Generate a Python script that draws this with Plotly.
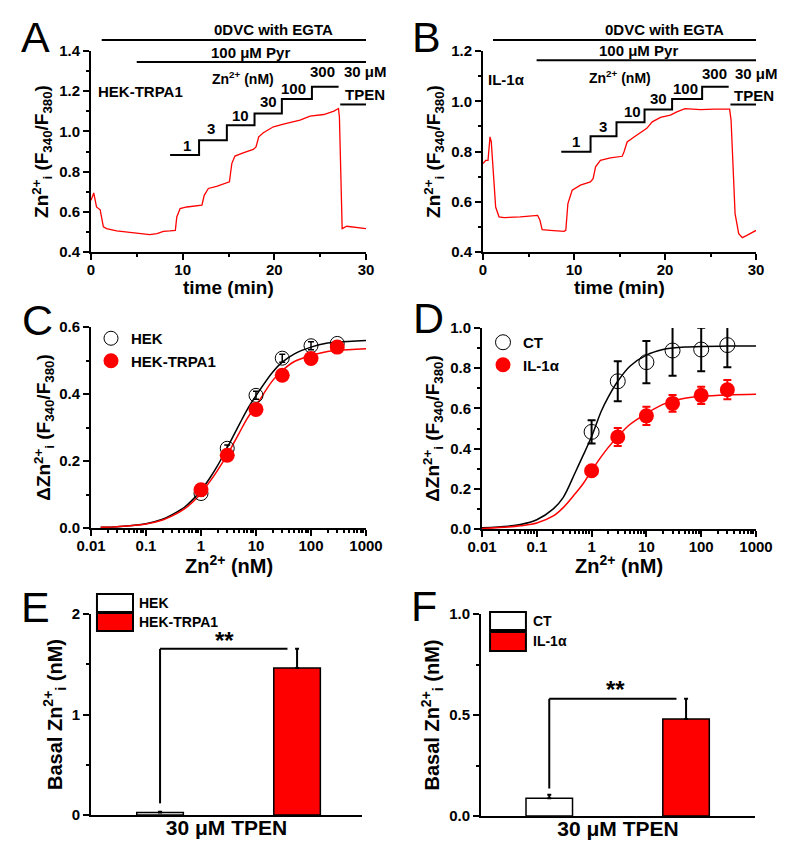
import plotly.graph_objects as go

# page body has an 8 px margin; the figure is sized so it ends exactly at the window edge
OFF = 8
W, H = 788 - OFF, 852 - OFF
FONT = "Liberation Sans, Arial, sans-serif"

# ---------------- data ----------------
# Panel A: HEK-TRPA1 trace
tA = [0, 0.3, 0.6, 1.0, 1.35, 1.7, 2.8, 4.6, 6.4, 7.2, 7.9, 8.6, 9.2, 9.36, 9.72, 10.45, 11.2, 12.1, 12.35, 12.8,
      13.7, 14.8, 15.1, 15.36, 15.7, 16.6, 17.7, 18.0, 18.3, 18.8, 19.9, 21.0, 22.8, 23.9, 25.4, 26.5, 27.0, 27.1,
      27.27, 27.4, 27.9, 28.65, 30]
rA = [0.657, 0.694, 0.624, 0.61, 0.525, 0.516, 0.505, 0.496, 0.486, 0.491, 0.503, 0.505, 0.508, 0.574, 0.616, 0.624,
      0.628, 0.633, 0.682, 0.716, 0.727, 0.744, 0.749, 0.84, 0.877, 0.893, 0.91, 0.923, 0.973, 0.993, 1.023, 1.036,
      1.056, 1.076, 1.084, 1.101, 1.114, 1.07, 0.824, 0.516, 0.528, 0.525, 0.516]
# Panel B: IL-1alpha trace
tB = [0, 0.3, 0.55, 0.77, 0.91, 1.06, 1.39, 1.76, 2.3, 4.1, 6.0, 6.26, 6.5, 7.4, 8.9, 9.1, 9.33, 9.8, 10.7, 11.8,
      12.1, 12.37, 12.9, 14.0, 15.3, 15.5, 15.84, 16.6, 17.5, 18.0, 18.6, 19.5, 20.6, 21.3, 22.2, 23.9, 25.4, 27.1,
      27.26, 27.5, 27.7, 28.1, 28.5, 29.0, 30]
rB = [0.752, 0.765, 0.765, 0.858, 0.838, 0.765, 0.579, 0.54, 0.537, 0.54, 0.546, 0.526, 0.489, 0.486, 0.482, 0.486,
      0.593, 0.646, 0.666, 0.679, 0.692, 0.739, 0.765, 0.775, 0.781, 0.799, 0.838, 0.858, 0.878, 0.892, 0.918, 0.936,
      0.945, 0.958, 0.971, 0.967, 0.969, 0.969, 0.925, 0.739, 0.553, 0.473, 0.457, 0.466, 0.486]

# Zn2+ application protocol (step onset times, min) and labels
step_labels = ["1", "3", "10", "30", "100", "300"]
stepA_t = [8.63, 11.79, 14.82, 17.84, 20.82, 24.1, 27.01]
stepA_y = [0.883, 0.956, 1.03, 1.089, 1.161, 1.222, 1.222]
stepB_t = [8.6, 11.82, 14.67, 17.75, 20.78, 24.08, 27.0]
stepB_y = [0.799, 0.861, 0.916, 0.967, 1.009, 1.058, 1.058]
egta_start = [1.17, 1.1]
pyr_start = [4.99, 5.89]
tpen_start = [27.19, 27.19]

# Panels C/D: concentration-response
conc = [1, 3, 10, 30, 100, 300]
hek_mean = [0.103, 0.238, 0.396, 0.507, 0.544, 0.551]
hek_err = [0.008, 0.01, 0.012, 0.012, 0.012, 0.008]
trpa1_mean = [0.114, 0.217, 0.354, 0.456, 0.506, 0.540]
trpa1_err = [0.006, 0.008, 0.01, 0.01, 0.01, 0.01]
fitC_x = [0.015, 0.03, 0.1, 0.2, 0.3, 0.5, 0.7, 1, 1.5, 2, 3, 5, 7, 10, 20, 30, 50, 100, 200, 300, 1000]
fit_hek = [0.002, 0.004, 0.013, 0.026, 0.04, 0.062, 0.084, 0.112, 0.153, 0.186, 0.24, 0.31, 0.355, 0.395, 0.465,
           0.495, 0.52, 0.54, 0.552, 0.555, 0.56]
fit_trpa1 = [0.002, 0.004, 0.012, 0.024, 0.036, 0.057, 0.077, 0.104, 0.142, 0.172, 0.218, 0.285, 0.328, 0.365, 0.44,
             0.47, 0.497, 0.515, 0.527, 0.53, 0.535]

ct_mean = [0.483, 0.735, 0.83, 0.888, 0.893, 0.915]
ct_err = [0.058, 0.1, 0.105, 0.125, 0.108, 0.11]
il_mean = [0.29, 0.458, 0.563, 0.625, 0.665, 0.693]
il_err = [0.02, 0.045, 0.045, 0.042, 0.043, 0.048]
fitD_x = [0.01, 0.03, 0.05, 0.1, 0.2, 0.3, 0.5, 0.7, 1, 1.5, 2, 3, 5, 10, 20, 30, 50, 100, 300, 1000]
fit_ct = [0.006, 0.014, 0.022, 0.046, 0.1, 0.155, 0.28, 0.366, 0.46, 0.586, 0.655, 0.735, 0.81, 0.865, 0.893, 0.9,
          0.905, 0.908, 0.91, 0.91]
fit_il = [0.003, 0.01, 0.016, 0.03, 0.065, 0.105, 0.175, 0.225, 0.29, 0.36, 0.405, 0.46, 0.52, 0.575, 0.62, 0.635,
          0.65, 0.66, 0.667, 0.67]

# Panels E/F: basal Zn2+
groupsE = ["HEK", "HEK-TRPA1"]
basalE = [0.025, 1.463]
basalE_err = [0.008, 0.19]
groupsF = ["CT", "IL-1α"]
basalF = [0.088, 0.48]
basalF_err = [0.017, 0.1]

# ---------------- layout helpers (window pixels -> paper fractions) ----------------
def fx(px):
    return (px - OFF) / W

def fy(py):
    return 1 - (py - OFF) / H

def xdom(a, b):
    return [fx(a), fx(b)]

def ydom(top, bottom):
    return [fy(bottom), fy(top)]

tickfont = dict(family=FONT, size=15, color="black", weight="bold")
titlefont = dict(family=FONT, size=19, color="black", weight="bold")

def axis_common(**kw):
    d = dict(showline=True, linewidth=2, linecolor="black", ticks="outside", ticklen=6, tickwidth=2,
             tickcolor="black", showgrid=False, zeroline=False, tickfont=tickfont, fixedrange=True,
             mirror=False, automargin=False)
    d.update(kw)
    return d

fig = go.Figure()

RED = "#ff0000"

# ---- Panel A ----
fig.add_trace(go.Scatter(x=tA, y=rA, mode="lines", line=dict(color=RED, width=1.3), xaxis="x", yaxis="y",
                         showlegend=False))
fig.add_trace(go.Scatter(x=stepA_t, y=stepA_y, mode="lines", line=dict(color="black", width=2, shape="hv"),
                         xaxis="x", yaxis="y", showlegend=False))
# ---- Panel B ----
fig.add_trace(go.Scatter(x=tB, y=rB, mode="lines", line=dict(color=RED, width=1.3), xaxis="x2", yaxis="y2",
                         showlegend=False))
fig.add_trace(go.Scatter(x=stepB_t, y=stepB_y, mode="lines", line=dict(color="black", width=2, shape="hv"),
                         xaxis="x2", yaxis="y2", showlegend=False))

# ---- Panel C ----
fig.add_trace(go.Scatter(x=fitC_x, y=fit_hek, mode="lines", line=dict(color="black", width=1.5, shape="spline"),
                         xaxis="x3", yaxis="y3", showlegend=False))
fig.add_trace(go.Scatter(x=fitC_x, y=fit_trpa1, mode="lines", line=dict(color=RED, width=1.5, shape="spline"),
                         xaxis="x3", yaxis="y3", showlegend=False))
fig.add_trace(go.Scatter(x=conc, y=hek_mean, mode="markers", name="HEK",
                         marker=dict(symbol="circle-open", size=14, color="black", line=dict(width=1)),
                         error_y=dict(type="data", array=hek_err, color="black", thickness=1.5, width=3),
                         xaxis="x3", yaxis="y3", legend="legend"))
fig.add_trace(go.Scatter(x=conc, y=trpa1_mean, mode="markers", name="HEK-TRPA1",
                         marker=dict(symbol="circle", size=15, color=RED),
                         error_y=dict(type="data", array=trpa1_err, color=RED, thickness=1.5, width=3),
                         xaxis="x3", yaxis="y3", legend="legend"))

# ---- Panel D ----
fig.add_trace(go.Scatter(x=fitD_x, y=fit_ct, mode="lines", line=dict(color="black", width=1.5, shape="spline"),
                         xaxis="x4", yaxis="y4", showlegend=False))
fig.add_trace(go.Scatter(x=fitD_x, y=fit_il, mode="lines", line=dict(color=RED, width=1.5, shape="spline"),
                         xaxis="x4", yaxis="y4", showlegend=False))
fig.add_trace(go.Scatter(x=conc, y=ct_mean, mode="markers", name="CT",
                         marker=dict(symbol="circle-open", size=15, color="black", line=dict(width=1)),
                         error_y=dict(type="data", array=ct_err, color="black", thickness=2, width=4),
                         xaxis="x4", yaxis="y4", legend="legend2"))
fig.add_trace(go.Scatter(x=conc, y=il_mean, mode="markers", name="IL-1α",
                         marker=dict(symbol="circle", size=15, color=RED),
                         error_y=dict(type="data", array=il_err, color=RED, thickness=2, width=4),
                         xaxis="x4", yaxis="y4", legend="legend2"))

# ---- Panel E ----
fig.add_trace(go.Bar(x=groupsE, y=basalE, width=0.34,
                     marker=dict(color=["white", RED], line=dict(color="black", width=1.5)),
                     error_y=dict(type="data", array=basalE_err, arrayminus=[0, 0], symmetric=False,
                                  color="black", thickness=2, width=2),
                     xaxis="x5", yaxis="y5", showlegend=False))
# ---- Panel F ----
fig.add_trace(go.Bar(x=groupsF, y=basalF, width=0.34,
                     marker=dict(color=["white", RED], line=dict(color="black", width=1.5)),
                     error_y=dict(type="data", array=basalF_err, arrayminus=[0, 0], symmetric=False,
                                  color="black", thickness=2, width=2),
                     xaxis="x6", yaxis="y6", showlegend=False))

# ---------------- axes ----------------
logvals = [0.01, 0.1, 1, 10, 100, 1000]
logtext = ["0.01", "0.1", "1", "10", "100", "1000"]
logminor = [m * 10 ** k for k in range(-2, 3) for m in range(2, 10)]

ytitleA = "Zn<sup>2+</sup><sub>i</sub> (F<sub>340</sub>/F<sub>380</sub>)"
ytitleC = "ΔZn<sup>2+</sup><sub>i</sub> (F<sub>340</sub>/F<sub>380</sub>)"
ytitleE = "Basal Zn<sup>2+</sup><sub>i</sub> (nM)"
xtitleA = "time (min)"
xtitleC = "Zn<sup>2+</sup> (nM)"

rangeA = [0.4, 1.4]
rangeB = [0.4, 1.2]

def mnr(vals, width=2):
    return dict(tickvals=vals, ticks="outside", ticklen=3, tickwidth=width, tickcolor="black")

fig.update_layout(
    template="none",
    width=W, height=H, margin=dict(l=0, r=0, t=0, b=0, autoexpand=False),
    paper_bgcolor="white", plot_bgcolor="white",
    font=dict(family=FONT, color="black"),
    # A
    xaxis=axis_common(domain=xdom(91, 366), anchor="y", range=[0, 30], tickvals=[0, 10, 20, 30],
                      minor=mnr([5, 15, 25]), ticklabelstandoff=-3),
    yaxis=axis_common(domain=ydom(51, 252), anchor="x", range=rangeA,
                      tickvals=[0.4, 0.6, 0.8, 1.0, 1.2, 1.4], ticktext=["0.4", "0.6", "0.8", "1.0", "1.2", "1.4"],
                      minor=mnr([0.5, 0.7, 0.9, 1.1, 1.3]),
                      title=dict(text=ytitleA, font=titlefont, standoff=5)),
    # B
    xaxis2=axis_common(domain=xdom(483, 756), anchor="y2", range=[0, 30], tickvals=[0, 10, 20, 30],
                       minor=mnr([5, 15, 25]), ticklabelstandoff=-3),
    yaxis2=axis_common(domain=ydom(51, 252), anchor="x2", range=rangeB,
                       tickvals=[0.4, 0.6, 0.8, 1.0, 1.2], ticktext=["0.4", "0.6", "0.8", "1.0", "1.2"],
                       minor=mnr([0.5, 0.7, 0.9, 1.1]),
                       title=dict(text=ytitleA, font=titlefont, standoff=5)),
    # C
    xaxis3=axis_common(domain=xdom(91, 366), anchor="y3", type="log", range=[-2, 3], tickvals=logvals,
                       ticktext=logtext, minor=mnr(logminor, 1.5), ticklabelstandoff=-3),
    yaxis3=axis_common(domain=ydom(327, 528), anchor="x3", range=[0, 0.6],
                       tickvals=[0, 0.2, 0.4, 0.6], ticktext=["0.0", "0.2", "0.4", "0.6"],
                       minor=mnr([0.1, 0.3, 0.5]),
                       title=dict(text=ytitleC, font=titlefont, standoff=3)),
    # D
    xaxis4=axis_common(domain=xdom(482, 756), anchor="y4", type="log", range=[-2, 3], tickvals=logvals,
                       ticktext=logtext, minor=mnr(logminor, 1.5), ticklabelstandoff=-3),
    yaxis4=axis_common(domain=ydom(328, 529), anchor="x4", range=[0, 1.0],
                       tickvals=[0, 0.2, 0.4, 0.6, 0.8, 1.0], ticktext=["0.0", "0.2", "0.4", "0.6", "0.8", "1.0"],
                       minor=mnr([0.1, 0.3, 0.5, 0.7, 0.9]),
                       title=dict(text=ytitleC, font=titlefont, standoff=5)),
    # E
    xaxis5=axis_common(domain=xdom(91, 362), anchor="y5", type="category", range=[-0.504, 1.474],
                       ticks="", showticklabels=False,
                       title=dict(text="30 μM TPEN", font=dict(family=FONT, size=21, color="black", weight="bold"),
                                  standoff=4)),
    yaxis5=axis_common(domain=ydom(614, 815), anchor="x5", range=[0, 2],
                       tickvals=[0, 1, 2], ticktext=["0", "1", "2"],
                       minor=mnr([0.5, 1.5]),
                       title=dict(text=ytitleE, font=dict(family=FONT, size=20, color="black", weight="bold"),
                                  standoff=4)),
    # F
    xaxis6=axis_common(domain=xdom(481, 755), anchor="y6", type="category", range=[-0.499, 1.504],
                       ticks="", showticklabels=False,
                       title=dict(text="30 μM TPEN", font=dict(family=FONT, size=21, color="black", weight="bold"),
                                  standoff=4)),
    yaxis6=axis_common(domain=ydom(614, 816), anchor="x6", range=[0, 1.0],
                       tickvals=[0, 0.5, 1.0], ticktext=["0.0", "0.5", "1.0"],
                       minor=mnr([0.25, 0.75]),
                       title=dict(text=ytitleE, font=dict(family=FONT, size=20, color="black", weight="bold"),
                                  standoff=4)),
    legend=dict(x=fx(91), y=fy(322), xanchor="left", yanchor="top", bgcolor="rgba(0,0,0,0)",
                font=dict(family=FONT, size=15, color="black", weight="bold"), tracegroupgap=0),
    legend2=dict(x=fx(483), y=fy(326), xanchor="left", yanchor="top", bgcolor="rgba(0,0,0,0)",
                 font=dict(family=FONT, size=15, color="black", weight="bold"), tracegroupgap=0),
    showlegend=True,
)

# ---------------- annotations & shapes ----------------
ann = []
shapes = []

def dom(v, rng):
    return (v - rng[0]) / (rng[1] - rng[0])

def txt(text, x, y, xref, yref, size=15, xanchor="center", bold=True):
    ann.append(dict(text=text, x=x, y=y, xref=xref, yref=yref, showarrow=False, xanchor=xanchor,
                    yanchor="middle", font=dict(family=FONT, size=size, color="black",
                                                weight="bold" if bold else "normal")))

def hline(x0, x1, y, xref, yref, width=2):
    shapes.append(dict(type="line", x0=x0, x1=x1, y0=y, y1=y, xref=xref, yref=yref,
                       line=dict(color="black", width=width)))

# x-axis titles placed just under the tick labels (as in the original figure)
txt(xtitleA, 0.5, -0.175, "x domain", "y domain", size=19)
txt(xtitleA, 0.5, -0.175, "x2 domain", "y2 domain", size=19)
txt(xtitleC, 0.5, -0.18, "x3 domain", "y3 domain", size=20)
txt(xtitleC, 0.5, -0.175, "x4 domain", "y4 domain", size=20)

# Panel A protocol
hline(egta_start[0], 30, dom(1.455, rangeA), "x", "y domain")
txt("0DVC with EGTA", 19.9, dom(1.508, rangeA), "x", "y domain")
hline(pyr_start[0], 30, dom(1.345, rangeA), "x", "y domain")
txt("100 μM Pyr", 17.4, dom(1.393, rangeA), "x", "y domain")
txt("Zn<sup>2+</sup> (nM)", 16.6, dom(1.265, rangeA), "x", "y domain", size=14)
txt("HEK-TRPA1", 5.35, dom(1.2, rangeA), "x", "y domain")
labA = [(10.45, 0.932), (13.07, 1.015), (16.3, 1.08), (19.4, 1.147), (22.1, 1.214), (25.3, 1.297)]
for s, (xx, yy) in zip(step_labels, labA):
    txt(s, xx, dom(yy, rangeA), "x", "y domain", size=15)
txt("30 μM", 29.9, dom(1.297, rangeA), "x", "y domain")
txt("TPEN", 29.9, dom(1.186, rangeA), "x", "y domain")
hline(tpen_start[0], 30, dom(1.134, rangeA), "x", "y domain")

# Panel B protocol
hline(egta_start[1], 30, dom(1.244, rangeB), "x2", "y2 domain")
txt("0DVC with EGTA", 19.9, dom(1.286, rangeB), "x2", "y2 domain")
hline(pyr_start[1], 30, dom(1.163, rangeB), "x2", "y2 domain")
txt("100 μM Pyr", 17.1, dom(1.201, rangeB), "x2", "y2 domain")
txt("Zn<sup>2+</sup> (nM)", 15.1, dom(1.095, rangeB), "x2", "y2 domain", size=14)
txt("IL-1α", 2.6, dom(1.088, rangeB), "x2", "y2 domain")
labB = [(10.2, 0.839), (13.2, 0.898), (16.4, 0.958), (19.3, 1.009), (22.2, 1.051), (25.4, 1.111)]
for s, (xx, yy) in zip(step_labels, labB):
    txt(s, xx, dom(yy, rangeB), "x2", "y2 domain", size=15)
txt("30 μM", 30.0, dom(1.111, rangeB), "x2", "y2 domain")
txt("TPEN", 29.8, dom(1.022, rangeB), "x2", "y2 domain")
hline(tpen_start[1], 30, dom(0.987, rangeB), "x2", "y2 domain")

# Panel E significance + legend
sigE_y = basalE[1] + basalE_err[1]
shapes.append(dict(type="line", x0=0, x1=0, y0=0.116, y1=sigE_y, xref="x5", yref="y5",
                   line=dict(color="black", width=2)))
hline(0, 0.93, sigE_y, "x5", "y5")
txt("**", 0.474, 1.74, "x5", "y5", size=24)
for (y0, y1, col, lab) in [(1.01, 1.10, "white", groupsE[0]), (0.915, 1.005, RED, groupsE[1])]:
    shapes.append(dict(type="rect", x0=0.022, x1=0.155, y0=y0, y1=y1, xref="x5 domain", yref="y5 domain",
                       fillcolor=col, line=dict(color="black", width=2)))
    txt(lab, 0.17, (y0 + y1) / 2, "x5 domain", "y5 domain", size=14, xanchor="left")

# Panel F significance + legend
sigF_y = basalF[1] + basalF_err[1]
shapes.append(dict(type="line", x0=0, x1=0, y0=0.136, y1=sigF_y, xref="x6", yref="y6",
                   line=dict(color="black", width=2)))
hline(0, 0.93, sigF_y, "x6", "y6")
txt("**", 0.485, 0.625, "x6", "y6", size=24)
for (y0, y1, col, lab) in [(0.921, 1.01, "white", groupsF[0]), (0.817, 0.911, RED, groupsF[1])]:
    shapes.append(dict(type="rect", x0=0.033, x1=0.164, y0=y0, y1=y1, xref="x6 domain", yref="y6 domain",
                       fillcolor=col, line=dict(color="black", width=2)))
    txt(lab, 0.182, (y0 + y1) / 2, "x6 domain", "y6 domain", size=14, xanchor="left")

# Panel letters
for letter, (px, py) in zip("ABCDEF", [(35, 37), (426, 37), (37, 320), (428, 318), (35, 607), (424, 606)]):
    ann.append(dict(text=letter, x=fx(px), y=fy(py), xref="paper", yref="paper", showarrow=False,
                    xanchor="center", yanchor="middle",
                    font=dict(family=FONT, size=43, color="black")))

fig.update_layout(annotations=ann, shapes=shapes)
fig.write_html("out.html")
